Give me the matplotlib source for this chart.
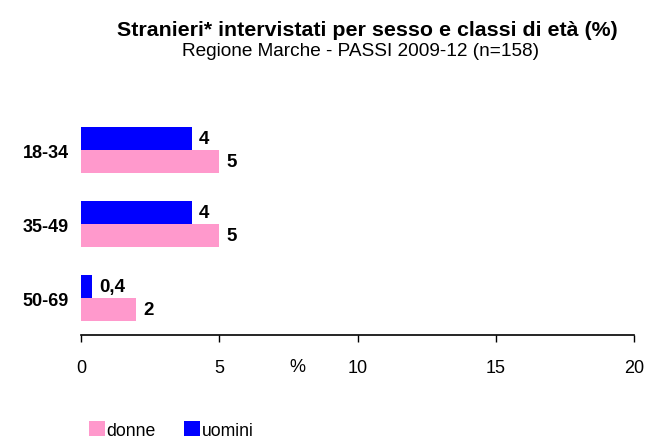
import matplotlib
matplotlib.use("Agg")
import matplotlib.pyplot as plt
from matplotlib.patches import Patch

plt.rcParams['font.family'] = ['Liberation Sans', 'DejaVu Sans']

categories = ["18-34", "35-49", "50-69"]
uomini = [4, 4, 0.4]
donne = [5, 5, 2]
uomini_labels = ["4", "4", "0,4"]
donne_labels = ["5", "5", "2"]
xticks = [0, 5, 10, 15, 20]

BLUE = "#0000FF"
PINK = "#FF99CC"

fig = plt.figure(figsize=(6.47, 4.39), dpi=100)
W, H = 647, 439
left, right, top, bottom = 81, 634, 114, 336
ax = fig.add_axes([left / W, 1 - bottom / H, (right - left) / W, (bottom - top) / H])

h = 0.31
ys = list(range(len(categories)))
for i, cat in enumerate(categories):
    y = i
    ax.barh(y - h / 2, uomini[i], height=h, color=BLUE, edgecolor='none')
    ax.barh(y + h / 2, donne[i], height=h, color=PINK, edgecolor='none')
    ax.text(uomini[i] + 0.27, y - h / 2, uomini_labels[i], ha='left', va='center',
            fontsize=13.5, fontweight='bold')
    ax.text(donne[i] + 0.27, y + h / 2, donne_labels[i], ha='left', va='center',
            fontsize=13.5, fontweight='bold')

ax.set_ylim(2.5, -0.5)
ax.set_xlim(0, 20)
ax.set_yticks(ys)
ax.set_yticklabels(categories, fontsize=13, fontweight='bold')
ax.tick_params(axis='y', length=0, pad=9)
ax.set_xticks(xticks)
ax.set_xticklabels([str(t) for t in xticks], fontsize=13)
ax.tick_params(axis='x', length=5, width=1, pad=12, direction='out')
for s in ['top', 'right', 'left']:
    ax.spines[s].set_visible(False)
ax.spines['bottom'].set_linewidth(1.2)

fig.text(297 / W, 1 - 367 / H, "%", ha='center', va='center', fontsize=13)

fig.text(367 / W, 1 - 30 / H, "Stranieri* intervistati per sesso e classi di età (%)",
         ha='center', va='center', fontsize=15.4, fontweight='bold')
fig.text(360 / W, 1 - 51 / H, "Regione Marche - PASSI 2009-12 (n=158)",
         ha='center', va='center', fontsize=13.7)

handles = [Patch(facecolor=PINK, edgecolor='none', label='donne'),
           Patch(facecolor=BLUE, edgecolor='none', label='uomini')]
fig.legend(handles=handles, loc='center left', bbox_to_anchor=(89 / W, 1 - 431 / H),
           ncol=2, frameon=False, fontsize=12.7, handlelength=0.9, handleheight=0.9,
           handletextpad=0.1, columnspacing=1.6, borderpad=0, borderaxespad=0)

fig.savefig("out.png", dpi=100)
